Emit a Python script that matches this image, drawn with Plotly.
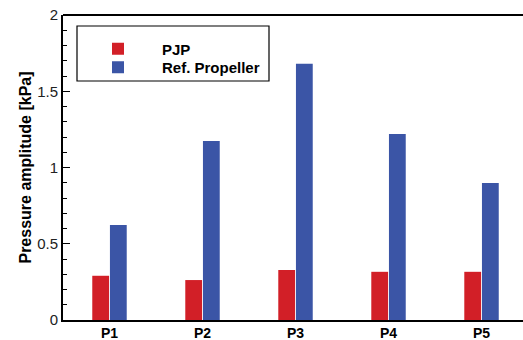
import plotly.graph_objects as go

categories = ["P1", "P2", "P3", "P4", "P5"]
pjp = [0.29, 0.262, 0.328, 0.316, 0.316]
ref_prop = [0.623, 1.174, 1.68, 1.22, 0.898]

legend_font = dict(size=15, color="black", family="Liberation Sans, Arial, sans-serif", weight="bold")

fig = go.Figure()
fig.add_trace(go.Bar(x=categories, y=pjp, name="PJP", legend="legend",
                     marker=dict(color="#d21f27", line=dict(width=0))))
fig.add_trace(go.Bar(x=categories, y=ref_prop, name="Ref. Propeller", legend="legend2",
                     marker=dict(color="#3b55a6", line=dict(width=0))))

PW, PH = 460, 305
fig.update_layout(
    width=523, height=340,
    margin=dict(l=63, r=0, t=15, b=20, autoexpand=False),
    paper_bgcolor="white", plot_bgcolor="rgba(0,0,0,0)",
    barmode="group", bargap=0.62, bargroupgap=0.05,
    font=dict(family="Liberation Sans, Arial, sans-serif", size=15, color="#222"),
    showlegend=True,
    legend=dict(x=(74 - 63) / PW, y=(320 - 49) / PH, xanchor="left", yanchor="middle",
                bgcolor="rgba(0,0,0,0)", borderwidth=0, font=legend_font, itemwidth=78),
    legend2=dict(x=(74 - 63) / PW, y=(320 - 67.5) / PH, xanchor="left", yanchor="middle",
                 bgcolor="rgba(0,0,0,0)", borderwidth=0, font=legend_font, itemwidth=78),
    shapes=[
        dict(type="rect", xref="paper", yref="paper",
             x0=(77 - 63) / PW, x1=(269 - 63) / PW,
             y0=(320 - 81) / PH, y1=(320 - 26) / PH,
             line=dict(color="black", width=1.2), fillcolor="rgba(0,0,0,0)", layer="below"),
        dict(type="line", xref="paper", yref="paper", x0=0, x1=1, y0=1, y1=1,
             line=dict(color="black", width=2)),
    ],
)

fig.update_xaxes(
    type="category", range=[-0.5, 4.446], automargin=False,
    showline=True, linecolor="black", linewidth=2, mirror=False,
    ticks="", showgrid=False, ticklabelstandoff=-1,
    tickfont=dict(size=14, color="black", weight="bold"),
)
fig.update_yaxes(
    range=[0, 2], tickvals=[0, 0.5, 1, 1.5, 2], ticktext=["0", "0.5", "1", "1.5", "2"],
    automargin=False,
    showline=True, linecolor="black", linewidth=2, mirror=False,
    ticks="inside", ticklen=7, tickwidth=1, tickcolor="black",
    minor=dict(dtick=0.1, ticks="inside", ticklen=4, tickwidth=1, tickcolor="black", showgrid=False),
    showgrid=False, zeroline=False,
    tickfont=dict(size=15, color="#222"),
    title=dict(text="Pressure amplitude [kPa]", font=dict(size=16, color="black", weight="bold"), standoff=2),
)

fig.write_html("out.html", config={"displayModeBar": False})
